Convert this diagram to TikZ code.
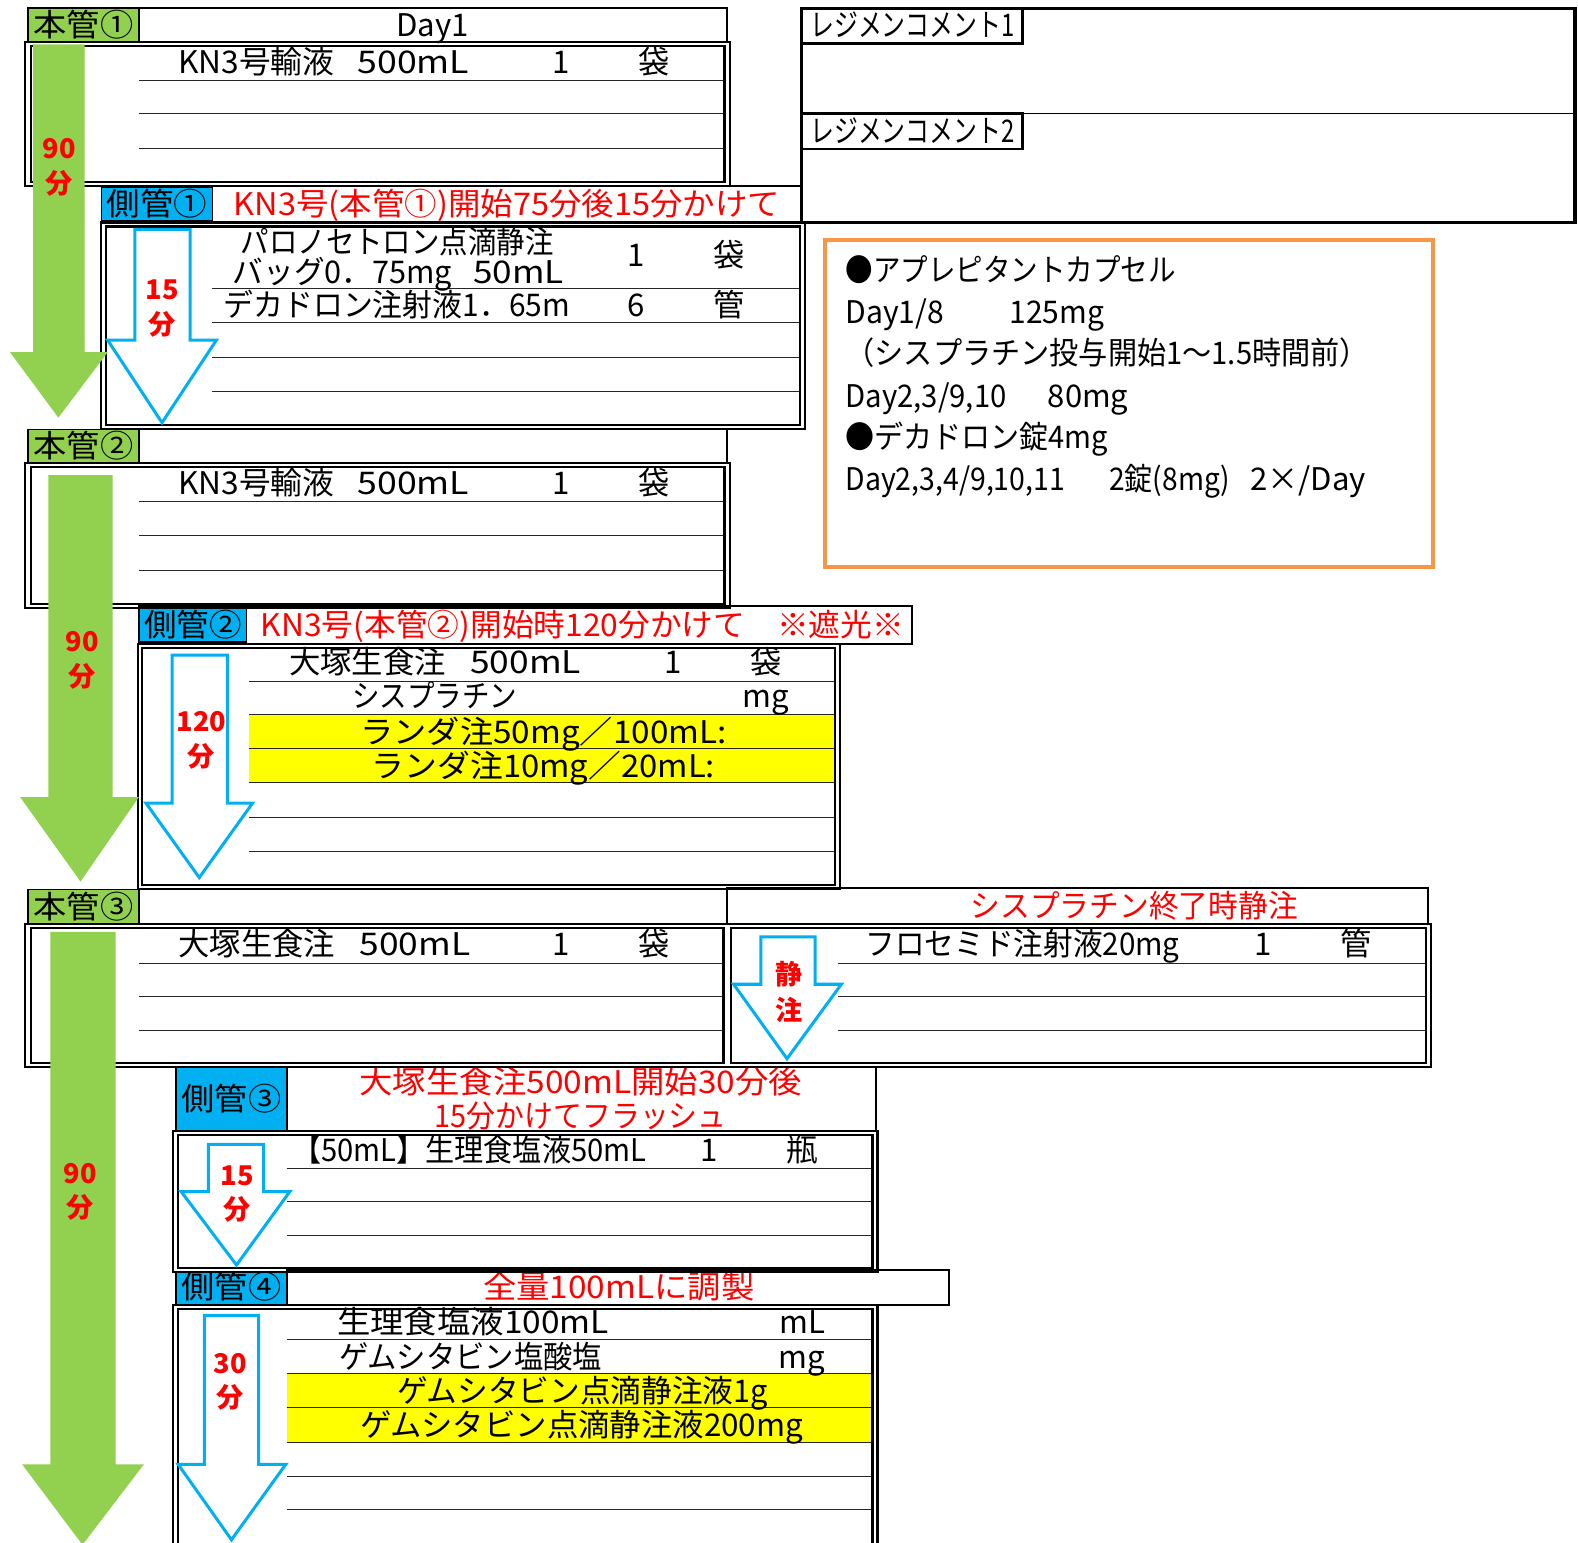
\documentclass[tikz,border=0pt]{standalone}
\usepackage{fontspec}
\usepackage{graphicx}
\setmainfont{Noto Sans CJK JP}
\definecolor{gr}{HTML}{92D050}
\definecolor{bl}{HTML}{00B0F0}
\definecolor{og}{HTML}{F79646}
\definecolor{yl}{HTML}{FFFF00}
\definecolor{rd}{HTML}{FF0000}
\newcommand{\W}[2]{\resizebox{#1pt}{\height}{#2}}
\tikzset{
  txt/.style={inner sep=0pt, text height=27pt, text depth=4pt, font=\fontsize{31pt}{31pt}\selectfont},
  tl/.style={txt, anchor=west},
  rtxt/.style={text=rd},
  albl/.style={inner sep=0pt, text=rd, font=\bfseries\fontsize{27pt}{27pt}\selectfont},
  hdr/.style={draw, line width=2pt},
  lab/.style={draw, line width=1.5pt},
  dbl/.style={draw, line width=2.2pt},
  rowl/.style={line width=1pt, black!85},
  garrow/.style={fill=gr},
  barrow/.style={draw=bl, line width=3pt, fill=white, line join=miter},
}
\begin{document}
\begin{tikzpicture}[x=1pt,y=-1pt]
\useasboundingbox (0,0) rectangle (1568,1533);
\clip (0,0) rectangle (1568,1533);
\fill[white] (0,0) rectangle (1568,1533);

% ---------- fills ----------
\fill[yl] (247,710) rectangle (830,778);
\fill[yl] (285,1365) rectangle (867,1433);

% ---------- row lines ----------
\foreach \y in {80,113,148} \draw[rowl] (138,\y) -- (720,\y);
\foreach \y in {287,320,355,389} \draw[rowl] (211,\y) -- (795,\y);
\foreach \y in {498,532,567} \draw[rowl] (138,\y) -- (720,\y);
\foreach \y in {677,710,744,778,812,846} \draw[rowl] (247,\y) -- (830,\y);
\foreach \y in {957,990,1024} {\draw[rowl] (138,\y) -- (719,\y); \draw[rowl] (833,\y) -- (1417,\y);}
\foreach \y in {1161,1194,1228} \draw[rowl] (285,\y) -- (867,\y);
\foreach \y in {1331,1365,1399,1433,1467,1500} \draw[rowl] (285,\y) -- (867,\y);

% ---------- headers / label boxes ----------
\draw[hdr] (138,8) rectangle (722,42);
\draw[lab, fill=gr] (28,8) rectangle (138,42);
\draw[hdr] (101,185) rectangle (796,221);
\draw[lab, fill=bl] (101,186) rectangle (211,219);
\draw[line width=3pt] (796,8) rectangle (1565,221);
\draw[line width=1pt] (796,113) -- (1565,113);
\draw[line width=2.5pt] (796,8) rectangle (1016,43);
\draw[line width=2.5pt] (796,113) rectangle (1016,148);
\draw[hdr] (138,426) rectangle (722,460);
\draw[lab, fill=gr] (28,427) rectangle (138,460);
\draw[hdr] (138,602) rectangle (906,640);
\draw[lab, fill=bl] (138,603) rectangle (245,638);
\draw[hdr] (138,883) rectangle (722,918);
\draw[hdr] (722,882) rectangle (1419,918);
\draw[lab, fill=gr] (28,884) rectangle (138,918);
\draw[hdr] (285,1060) rectangle (870,1124);
\draw[lab, fill=bl] (175,1060) rectangle (285,1124);
\draw[hdr] (285,1262) rectangle (943,1297);
\draw[lab, fill=bl] (175,1264) rectangle (285,1296);

% orange box
\draw[og, line width=4pt] (820,238) rectangle (1424,563);

% ---------- texts ----------
\node[txt] (d1) at (430,25) {Day1};
\node[txt] (h1) at (83,25) {\W{99}{本管①}};
\node[tl] (r1a) at (177,62) {\W{155}{KN3号輸液}};
\node[tl] (r1b) at (355,62) {\W{111}{500mL}};
\node[txt] (r1c) at (558,62) {1};
\node[txt] (r1d) at (650,62) {袋};

\node[txt] (s1) at (156,203) {\W{100}{側管①}};
\node[tl,rtxt] (s1t) at (232,203) {\W{543}{KN3号(本管①)開始75分後15分かけて}};
\node[tl] (p1) at (239,240) {\W{311}{パロノセトロン点滴静注}};
\node[tl] (p2) at (231,270) {\W{218}{バッグ0．75mg}};
\node[tl] (p3) at (470,270) {\W{90}{50mL}};
\node[txt] (p4) at (632,253) {1};
\node[txt] (p5) at (724,253) {袋};
\node[tl] (p6) at (222,303) {\W{344}{デカドロン注射液1．65m}};
\node[txt] (p7) at (632,303) {6};
\node[txt] (p8) at (724,303) {管};

\node[tl] (rc1) at (805,25) {\W{203}{レジメンコメント1}};
\node[tl] (rc2) at (805,130) {\W{203}{レジメンコメント2}};

\node[tl] (o1) at (840,268) {\W{328}{●アプレピタントカプセル}};
\node[tl] (o2) at (840,310) {\W{98}{Day1/8}};
\node[tl] (o3) at (1003,310) {\W{94}{125mg}};
\node[tl] (o4) at (840,351) {\W{520}{（シスプラチン投与開始1～1.5時間前）}};
\node[tl] (o5) at (840,393) {\W{160}{Day2,3/9,10}};
\node[tl] (o6) at (1041,393) {\W{80}{80mg}};
\node[tl] (o7) at (840,434) {\W{261}{●デカドロン錠4mg}};
\node[tl] (o8) at (840,476) {\W{218}{Day2,3,4/9,10,11}};
\node[tl] (o9) at (1102,476) {\W{120}{2錠(8mg)}};
\node[tl] (o10) at (1242,476) {\W{115}{2×/Day}};

\node[txt] (h2) at (83,443) {\W{99}{本管②}};
\node[tl] (r2a) at (177,480) {\W{155}{KN3号輸液}};
\node[tl] (r2b) at (355,480) {\W{111}{500mL}};
\node[txt] (r2c) at (558,480) {1};
\node[txt] (r2d) at (650,480) {袋};

\node[txt] (s2) at (192,621) {\W{97}{側管②}};
\node[tl,rtxt] (s2t) at (259,621) {\W{639}{KN3号(本管②)開始時120分かけて　※遮光※}};
\node[tl] (q1) at (287,658) {\W{156}{大塚生食注}};
\node[tl] (q2) at (467,658) {\W{110}{500mL}};
\node[txt] (q3) at (669,658) {1};
\node[txt] (q4) at (761,658) {袋};
\node[txt] (q5) at (432,692) {\W{164}{シスプラチン}};
\node[txt] (q6) at (761,692) {mg};
\node[txt] (q7) at (540,727) {\W{364}{ランダ注50mg／100mL:}};
\node[txt] (q8) at (540,761) {\W{341}{ランダ注10mg／20mL:}};

\node[txt] (h3) at (83,901) {\W{99}{本管③}};
\node[txt,rtxt] (f0) at (1127,900) {\W{325}{シスプラチン終了時静注}};
\node[tl] (r3a) at (177,938) {\W{156}{大塚生食注}};
\node[tl] (r3b) at (357,938) {\W{110}{500mL}};
\node[txt] (r3c) at (558,938) {1};
\node[txt] (r3d) at (650,938) {袋};
\node[tl] (f1) at (860,938) {\W{312}{フロセミド注射液20mg}};
\node[txt] (f2) at (1255,938) {1};
\node[txt] (f3) at (1347,938) {管};

\node[txt] (s3) at (230,1092) {\W{99}{側管③}};
\node[txt,rtxt] (s3a) at (577,1075) {\W{440}{大塚生食注500mL開始30分後}};
\node[txt,rtxt] (s3b) at (577,1109) {\W{290}{15分かけてフラッシュ}};
\node[tl] (t1) at (290,1143) {\W{352}{【50mL】生理食塩液50mL}};
\node[txt] (t2) at (705,1143) {1};
\node[txt] (t3) at (797,1143) {瓶};

\node[txt] (s4) at (230,1279) {\W{99}{側管④}};
\node[txt,rtxt] (s4t) at (615,1279) {\W{270}{全量100mLに調製}};
\node[txt] (u1) at (470,1314) {\W{270}{生理食塩液100mL}};
\node[txt] (u2) at (797,1314) {mL};
\node[txt] (u3) at (468,1348) {\W{261}{ゲムシタビン塩酸塩}};
\node[txt] (u4) at (797,1348) {mg};
\node[txt] (u5) at (579,1382) {\W{368}{ゲムシタビン点滴静注液1g}};
\node[txt] (u6) at (578,1416) {\W{440}{ゲムシタビン点滴静注液200mg}};

% ---------- double-bordered boxes ----------
\draw[dbl] (25,42) rectangle (725,185);
\draw[dbl] (31,46) rectangle (720,181);
\draw[dbl] (100,221) rectangle (800,426);
\draw[dbl] (105,225) rectangle (795,422);
\draw[dbl] (25,460) rectangle (725,604);
\draw[dbl] (31,464) rectangle (720,600);
\draw[dbl] (137,640) rectangle (835,883);
\draw[dbl] (141,644) rectangle (830,879);
\draw[dbl] (25,918) rectangle (1422,1060);
\draw[dbl] (31,922) rectangle (719,1056);
\draw[dbl] (726,922) rectangle (1417,1056);
\draw[dbl] (172,1124) rectangle (872,1264);
\draw[dbl] (177,1128) rectangle (867,1260);
\draw[dbl] (172,1297) rectangle (872,1550);
\draw[dbl] (177,1301) rectangle (867,1545);

% ---------- arrows ----------
\path[garrow] (33,44) -- (84,44) -- (84,350) -- (107,350) -- (58,415) -- (10,350) -- (33,350) -- cycle;
\path[garrow] (48,472) -- (112,472) -- (112,792) -- (138,792) -- (80,876) -- (20,792) -- (48,792) -- cycle;
\path[garrow] (50,926) -- (115,926) -- (115,1455) -- (143,1455) -- (82,1535) -- (22,1455) -- (50,1455) -- cycle;

\path[barrow] (134,228) -- (189,228) -- (189,338) -- (215,338) -- (161,420) -- (107,338) -- (134,338) -- cycle;
\path[barrow] (171,651) -- (226,651) -- (226,798) -- (251,798) -- (198,872) -- (145,798) -- (171,798) -- cycle;
\path[barrow] (756,931) -- (810,931) -- (810,978) -- (836,978) -- (782,1052) -- (729,978) -- (756,978) -- cycle;
\path[barrow] (207,1137) -- (262,1137) -- (262,1184) -- (288,1184) -- (235,1257) -- (180,1184) -- (207,1184) -- cycle;
\path[barrow] (203,1307) -- (257,1307) -- (257,1455) -- (284,1455) -- (230,1530) -- (177,1455) -- (203,1455) -- cycle;

% ---------- arrow labels ----------
\node[albl] (g1a) at (59,148) {90};
\node[albl] (g1b) at (59,182) {分};
\node[albl] (b1a) at (161,288) {15};
\node[albl] (b1b) at (161,322) {分};
\node[albl] (g2a) at (82,638) {90};
\node[albl] (g2b) at (82,672) {分};
\node[albl] (b2a) at (200,717) {120};
\node[albl] (b2b) at (200,752) {分};
\node[albl] (b3a) at (784,968) {静};
\node[albl] (b3b) at (784,1004) {注};
\node[albl] (g3a) at (80,1166) {90};
\node[albl] (g3b) at (80,1200) {分};
\node[albl] (b4a) at (236,1168) {15};
\node[albl] (b4b) at (236,1202) {分};
\node[albl] (b5a) at (229,1355) {30};
\node[albl] (b5b) at (229,1389) {分};
\end{tikzpicture}
\end{document}
